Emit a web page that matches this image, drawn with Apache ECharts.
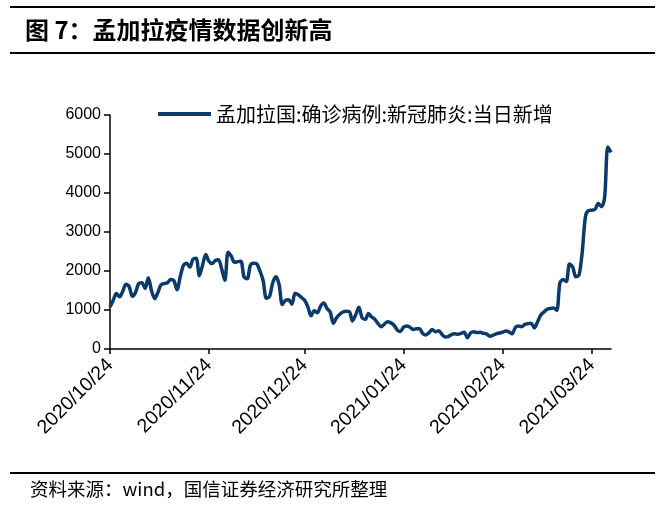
<!DOCTYPE html>
<html>
<head>
<meta charset="utf-8">
<script src="https://cdn.jsdelivr.net/npm/echarts@6/dist/echarts.min.js"></script>
<style>
html,body{margin:0;padding:0;background:#fff;}
#chart{width:665px;height:510px;}
</style>
</head>
<body>
<div id="chart"></div>
<script>
// ---- data ----
const titleText = '图 7：孟加拉疫情数据创新高';
const sourceText = '资料来源：wind，国信证券经济研究所整理';
const seriesName = '孟加拉国:确诊病例:新冠肺炎:当日新增';
const startDate = '2020-10-24';
const endDate = '2021-03-30';
const yTicks = [0, 1000, 2000, 3000, 4000, 5000, 6000];
const dailyNew = [
  1080,1250,1420,1340,1480,1660,1600,1350,1450,1680,
  1700,1550,1830,1500,1290,1450,1650,1680,1700,1780,
  1760,1520,1850,2140,2200,2100,2300,2330,1880,2150,
  2420,2250,2190,2270,2290,2050,1760,2480,2380,2220,
  2240,2250,1850,1800,2150,2200,2180,2000,1750,1300,
  1350,1700,1850,1650,1140,1250,1260,1150,1430,1390,
  1320,1250,1080,850,980,930,1100,1180,1040,950,
  660,800,890,950,970,960,720,880,1070,800,
  760,910,820,760,650,570,640,700,670,610,
  490,450,560,590,560,500,520,520,400,360,
  420,500,440,470,380,310,320,370,390,380,
  400,430,290,410,440,420,430,400,390,330,
  350,390,410,430,460,440,390,550,590,570,
  630,650,660,540,700,870,950,1020,1040,1050,
  990,1700,1780,1730,2180,2100,1850,1900,2500,3400,
  3550,3560,3580,3730,3650,3880,5180,5040
];

// build daily category labels
function pad(n){return n<10?'0'+n:''+n;}
const categories = [];
{
  const d = new Date(startDate + 'T00:00:00Z');
  const e = new Date(endDate + 'T00:00:00Z');
  while (d <= e) {
    categories.push(d.getUTCFullYear() + '/' + pad(d.getUTCMonth()+1) + '/' + pad(d.getUTCDate()));
    d.setUTCDate(d.getUTCDate()+1);
  }
}
const showTick = (i, v) => /\/24$/.test(v);

const chart = echarts.init(document.getElementById('chart'), null, {renderer:'canvas'});
const latin = '"Liberation Sans", Arial, sans-serif';
const cjk = '"Noto Sans CJK SC", sans-serif';
chart.setOption({
  animation: false,
  backgroundColor: '#fff',
  title: [
    { text: titleText, left: 20, top: 13,
      textStyle: { fontFamily: cjk, fontSize: 24, fontWeight: 'bold', color: '#000' } },
    { text: sourceText, left: 25, top: 475,
      textStyle: { fontFamily: cjk, fontSize: 18.5, fontWeight: 'normal', color: '#000' } }
  ],
  graphic: [
    { type: 'line', shape: { x1: 10, y1: 7, x2: 655, y2: 7 }, style: { stroke: '#000', lineWidth: 2 } },
    { type: 'line', shape: { x1: 10, y1: 53, x2: 655, y2: 53 }, style: { stroke: '#000', lineWidth: 2 } },
    { type: 'line', shape: { x1: 10, y1: 473, x2: 655, y2: 473 }, style: { stroke: '#000', lineWidth: 2 } }
  ],
  legend: {
    left: 153, top: 99,
    icon: 'rect', itemWidth: 53, itemHeight: 4, itemGap: 8,
    textStyle: { fontFamily: cjk, fontSize: 20, color: '#000' },
    data: [seriesName]
  },
  grid: { left: 110, right: 54, top: 115, bottom: 161, containLabel: false },
  xAxis: {
    type: 'category',
    data: categories,
    boundaryGap: false,
    axisLine: { lineStyle: { color: '#000', width: 1.5 } },
    axisTick: { show: true, interval: showTick, length: 5, lineStyle: { color: '#000', width: 1.5 } },
    axisLabel: { interval: showTick, rotate: 45, margin: 13, fontFamily: latin, fontSize: 19.5, color: '#000' },
    splitLine: { show: false }
  },
  yAxis: {
    type: 'value',
    min: yTicks[0], max: yTicks[yTicks.length-1], interval: 1000,
    axisLine: { show: true, lineStyle: { color: '#000', width: 1.5 } },
    axisTick: { show: true, length: 6, lineStyle: { color: '#000', width: 1.5 } },
    axisLabel: { margin: 9, fontFamily: latin, fontSize: 16, color: '#000', formatter: v => String(v) },
    splitLine: { show: false }
  },
  series: [{
    name: seriesName,
    type: 'line',
    data: dailyNew,
    showSymbol: false,
    symbol: 'none',
    smooth: 0.3,
    lineStyle: { color: '#0b3a6b', width: 3.5 },
    itemStyle: { color: '#0b3a6b' }
  }]
});
</script>
</body>
</html>
